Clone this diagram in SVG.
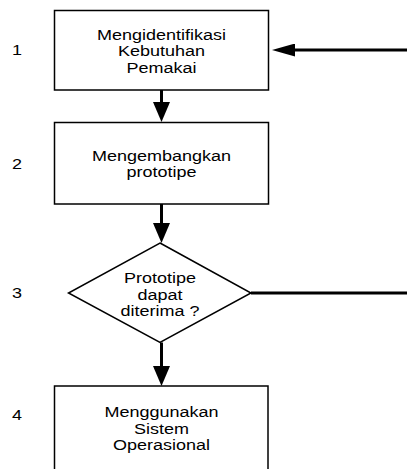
<svg xmlns="http://www.w3.org/2000/svg" width="407" height="469" viewBox="0 0 407 469">
  <style>
    .box { fill: #ffffff; stroke: #000000; stroke-width: 1.5; }
    .conn { fill: none; stroke: #000000; stroke-width: 3; }
    .lbl { font-family: "Liberation Sans", Arial, sans-serif; font-size: 15px; fill: #000000; text-anchor: middle; }
    .num { font-family: "Liberation Sans", Arial, sans-serif; font-size: 15px; fill: #000000; }
  </style>
  <defs>
    <marker id="arrV" markerUnits="userSpaceOnUse" viewBox="0 0 20 17" refX="10" refY="8.5" markerWidth="20" markerHeight="17" orient="auto">
      <path d="M0,0 L20,8.5 L0,17 z" fill="#000000"/>
    </marker>
    <marker id="arrH" markerUnits="userSpaceOnUse" viewBox="0 0 23 13" refX="13" refY="6.5" markerWidth="23" markerHeight="13" orient="auto">
      <path d="M0,0 L23,6.5 L0,13 z" fill="#000000"/>
    </marker>
  </defs>

  <g id="numbers">
    <g transform="translate(12 0) scale(1.2 1)"><text class="num" x="0" y="55">1</text></g>
    <g transform="translate(12 0) scale(1.2 1)"><text class="num" x="0" y="169">2</text></g>
    <g transform="translate(12 0) scale(1.2 1)"><text class="num" x="0" y="298">3</text></g>
    <g transform="translate(12 0) scale(1.2 1)"><text class="num" x="0" y="420">4</text></g>
  </g>

  <g id="node1">
    <rect class="box" x="54.5" y="10.5" width="214" height="79.5"/>
    <g transform="translate(161.5 0) scale(1.2 1)">
      <text class="lbl" x="0" y="40">Mengidentifikasi</text>
      <text class="lbl" x="0" y="56.5">Kebutuhan</text>
      <text class="lbl" x="0" y="73">Pemakai</text>
    </g>
  </g>

  <g id="node2">
    <rect class="box" x="54.5" y="122.5" width="214" height="81.5"/>
    <g transform="translate(161.5 0) scale(1.2 1)">
      <text class="lbl" x="0" y="161">Mengembangkan</text>
      <text class="lbl" x="0" y="177.5">prototipe</text>
    </g>
  </g>

  <g id="node3">
    <polygon class="box" points="160,243 251,293 160,342.5 68.5,293"/>
    <g transform="translate(160 0) scale(1.2 1)">
      <text class="lbl" x="0" y="283.5">Prototipe</text>
      <text class="lbl" x="0" y="300">dapat</text>
      <text class="lbl" x="0" y="316.5">diterima ?</text>
    </g>
  </g>

  <g id="node4">
    <rect class="box" x="54.5" y="386" width="213.5" height="100"/>
    <g transform="translate(161.5 0) scale(1.2 1)">
      <text class="lbl" x="0" y="417.5">Menggunakan</text>
      <text class="lbl" x="0" y="434">Sistem</text>
      <text class="lbl" x="0" y="450.5">Operasional</text>
    </g>
  </g>

  <g id="connectors">
    <path class="conn" d="M161.5,90 V112" marker-end="url(#arrV)"/>
    <path class="conn" d="M161.5,204 V233" marker-end="url(#arrV)"/>
    <path class="conn" d="M161.5,342.5 V376" marker-end="url(#arrV)"/>
    <path class="conn" d="M251,293 H412 V50 H282" marker-end="url(#arrH)"/>
  </g>
</svg>
